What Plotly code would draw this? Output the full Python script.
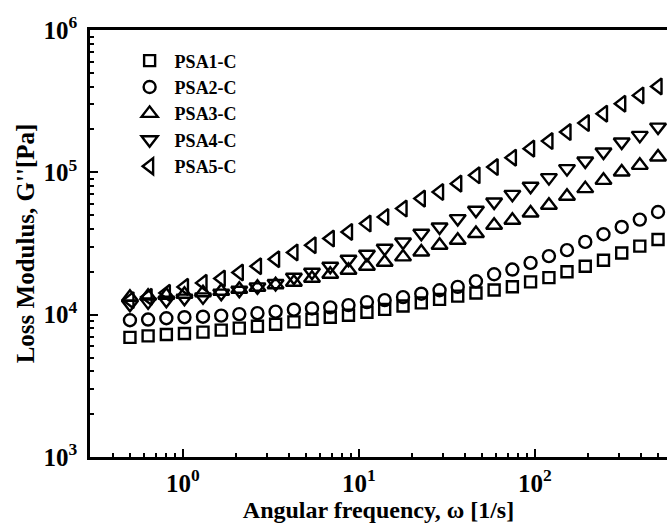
import plotly.graph_objects as go

omega = [0.5, 0.634, 0.805, 1.02, 1.30, 1.65, 2.09, 2.65, 3.36, 4.27,
         5.41, 6.87, 8.72, 11.1, 14.0, 17.8, 22.6, 28.7, 36.4, 46.2,
         58.6, 74.4, 94.4, 120, 152, 193, 245, 311, 394, 500]

psa1 = [6920, 7100, 7260, 7380, 7540, 7790, 8040, 8300, 8570, 8900,
        9290, 9590, 9900, 10400, 10900, 11500, 12100, 12800, 13500, 14200,
        14900, 15700, 17000, 18200, 20000, 21900, 24100, 27100, 30300, 33700]
psa2 = [9140, 9240, 9440, 9600, 9680, 9840, 10090, 10250, 10500, 10840,
        11060, 11250, 11670, 12250, 12650, 13290, 14040, 14850, 15670, 17180,
        19230, 20750, 23120, 25770, 28390, 32450, 36740, 41330, 46560, 52630]
psa3 = [13270, 13490, 13700, 13930, 14270, 14620, 15100, 15600, 16240, 16910,
        18040, 19240, 20530, 21900, 23360, 25450, 27590, 30740, 33330, 37150,
        42480, 46050, 51810, 58670, 67860, 76850, 87870, 100500, 112000, 128100]
psa4 = [11850, 12300, 12640, 13060, 13330, 14160, 14860, 15670, 16560, 18330,
        19870, 21900, 24520, 26590, 29300, 32430, 37330, 41310, 47320, 54120,
        61880, 70060, 79750, 91800, 106200, 120000, 138800, 163200, 181800, 207900]
psa5 = [12640, 13330, 14220, 15670, 16720, 17950, 19780, 21900, 24520, 27370,
        30740, 34250, 38120, 43650, 48570, 55630, 65380, 72750, 83290, 95260,
        108900, 126800, 146700, 165800, 191800, 221800, 258200, 303400, 347100, 401300]

names = ["PSA1-C", "PSA2-C", "PSA3-C", "PSA4-C", "PSA5-C"]
symbols = ["square-open", "circle-open", "triangle-up-open", "triangle-down-open", "triangle-left-open"]
sizes = [11, 12, 14, 14, 14]

x_major = [1, 10, 100]
x_major_text = ["<b>10<sup>0</sup></b>", "<b>10<sup>1</sup></b>", "<b>10<sup>2</sup></b>"]
x_minor = [0.3, 0.4, 0.5, 0.6, 0.7, 0.8, 0.9, 2, 3, 4, 5, 6, 7, 8, 9,
           20, 30, 40, 50, 60, 70, 80, 90, 200, 300, 400, 500]
y_major = [1e3, 1e4, 1e5, 1e6]
y_major_text = ["<b>10<sup>3</sup></b>", "<b>10<sup>4</sup></b>", "<b>10<sup>5</sup></b>", "<b>10<sup>6</sup></b>"]
y_minor = [m * d for d in (1e3, 1e4, 1e5) for m in range(2, 10)]

FONT = "Liberation Serif"

fig = go.Figure()
for name, ys, sym, sz in zip(names, [psa1, psa2, psa3, psa4, psa5], symbols, sizes):
    fig.add_trace(go.Scatter(
        x=omega, y=ys, mode="markers", name=name, legendgroup=name,
        marker=dict(symbol=sym, size=sz, color="black", line=dict(width=2.4, color="black")),
    ))

fig.update_layout(
    width=667, height=527,
    margin=dict(l=90, r=0, t=30, b=70),
    paper_bgcolor="white", plot_bgcolor="white",
    font=dict(family=FONT, color="black"),
    showlegend=True,
    legend=dict(x=0.06, y=0.971, xanchor="left", yanchor="top",
                bgcolor="rgba(0,0,0,0)", borderwidth=0,
                font=dict(family=FONT, size=18, color="black", weight="bold"),
                tracegroupgap=0, itemwidth=40),
    xaxis=dict(
        type="log", range=[-0.528, 2.750],
        tickmode="array", tickvals=x_major, ticktext=x_major_text,
        ticks="inside", ticklen=8, tickwidth=2, tickcolor="black",
        showline=True, linewidth=2.5, linecolor="black", mirror=True,
        showgrid=False, zeroline=False, ticklabelstandoff=2,
        tickfont=dict(family=FONT, size=25, color="black"),
        minor=dict(tickmode="array", tickvals=x_minor, ticks="inside", ticklen=4,
                   tickwidth=2, tickcolor="black", showgrid=False),
        title=dict(text="<b>Angular frequency, \u03c9 [1/s]</b>",
                   font=dict(family=FONT, size=24, color="black"), standoff=0),
    ),
    yaxis=dict(
        type="log", range=[3, 6],
        tickmode="array", tickvals=y_major, ticktext=y_major_text,
        ticks="inside", ticklen=8, tickwidth=2, tickcolor="black",
        showline=True, linewidth=2.5, linecolor="black", mirror=False,
        showgrid=False, zeroline=False, ticklabelstandoff=5,
        tickfont=dict(family=FONT, size=25, color="black"),
        minor=dict(tickmode="array", tickvals=y_minor, ticks="inside", ticklen=4,
                   tickwidth=2, tickcolor="black", showgrid=False),
        title=dict(text="<b>Loss Modulus, G''[Pa]</b>",
                   font=dict(family=FONT, size=25, color="black"), standoff=2),
    ),
)

fig.write_html("out.html")
